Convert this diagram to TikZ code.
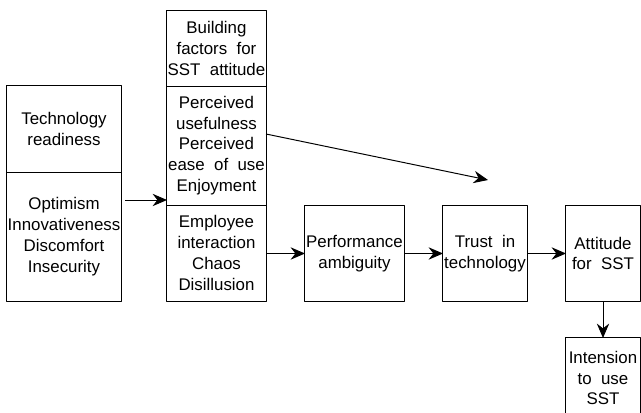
\documentclass[tikz,border=0pt]{standalone}
\usepackage{fontspec}
\setmainfont{Liberation Sans}
\usetikzlibrary{arrows.meta,positioning}

\begin{document}
\begin{tikzpicture}[x=0.025cm, y=-0.025cm, font=\fontsize{12}{14.8}\selectfont, line width=0.7pt, line join=round, >={Stealth[length=3.6mm,width=3.1mm,inset=1.2mm]},
		box/.style={draw, align=center, inner sep=0.5pt, outer sep=0pt}]
		\useasboundingbox (0,0) rectangle (641,413);
		% readiness
		\node[box, minimum width=2.85cm, minimum height=2.15cm] (tr) at (64,129) {Technology\\readiness};
		\node[box, minimum width=2.85cm, minimum height=3.225cm, below=0pt of tr] (trd) {Optimism\\Innovativeness\\Discomfort\\Insecurity};
		% building factors
		\node[box, minimum width=2.475cm, minimum height=1.875cm] (bf) at (216.5,48.5) {Building\\factors\ \ for\\SST\ \ attitude};
		\node[box, minimum width=2.475cm, minimum height=2.975cm, below=0pt of bf] (pu) {Perceived\\usefulness\\Perceived\\ease\ \ of\ \ use\\Enjoyment};
		\node[box, minimum width=2.475cm, minimum height=2.4cm, below=0pt of pu] (ei) {Employee\\interaction\\Chaos\\Disillusion};
		% chain
		\node[box, minimum width=2.475cm, minimum height=2.375cm] (pa) at (354.5,253.5) {Performance\\ambiguity};
		\node[box, minimum width=2.1cm, minimum height=2.375cm] (tt) at (485,253.5) {Trust\ \ in\\technology};
		\node[box, minimum width=1.85cm, minimum height=2.375cm] (att) at (603,253.5) {Attitude\\for\ \ SST};
		\node[box, minimum width=1.85cm, minimum height=2cm] (int) at (603,378) {Intension\\to\ \ use\\SST};
		\coordinate (d) at (488,180);
		% arrows
		\draw[->, shorten <=1mm] (trd.east |- 0,200) -- (pu.west |- 0,200);
		\draw[->] (pu.east |- 0,134) -- (d);
		\draw[->] (ei.east |- pa.west) -- (pa.west);
		\draw[->] (pa.east) -- (tt.west);
		\draw[->] (tt.east) -- (att.west);
		\draw[->] (att.south) -- (int.north);
\end{tikzpicture}
\end{document}
